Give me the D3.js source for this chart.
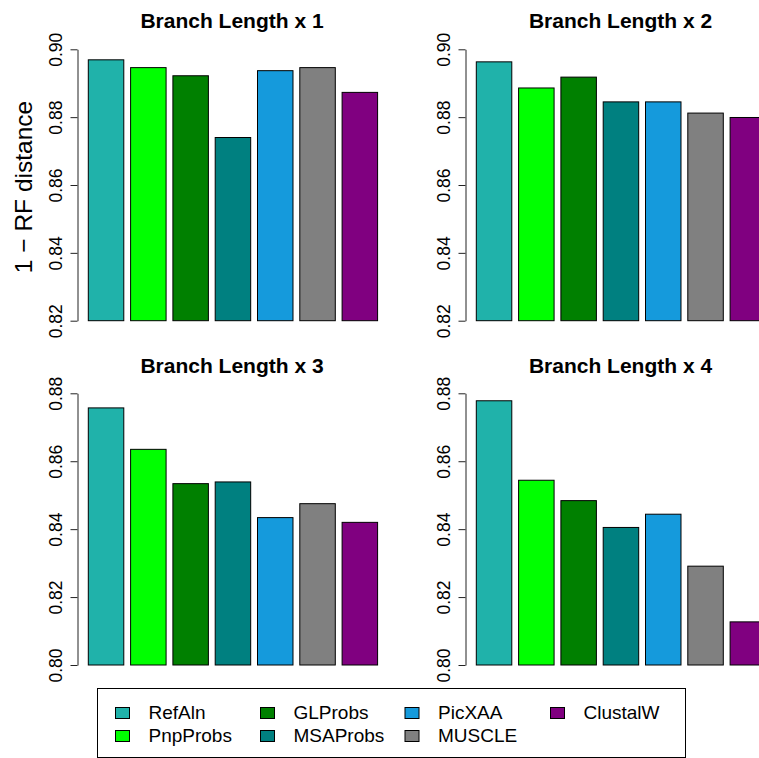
<!DOCTYPE html>
<html>
<head>
<meta charset="utf-8">
<script src="https://cdn.jsdelivr.net/npm/d3@7"></script>
<style>
  html, body { margin: 0; padding: 0; background: #fff; }
  svg { display: block; font-family: "Liberation Sans", Arial, Helvetica, sans-serif; }
</style>
</head>
<body>
<svg id="chart" width="759" height="758"></svg>
<script>
// Aligners compared, with their bar colours
const methods = ["RefAln", "PnpProbs", "GLProbs", "MSAProbs", "PicXAA", "MUSCLE", "ClustalW"];
const colors  = ["#20B2AA", "#00FF00", "#008000", "#008080", "#159ADC", "#808080", "#800080"];

// 1 - RF distance for each branch length scaling
const blx1 = [0.8969, 0.8946, 0.8922, 0.8740, 0.8937, 0.8946, 0.8873];
const blx2 = [0.8963, 0.8886, 0.8918, 0.8845, 0.8845, 0.8812, 0.8799];
const blx3 = [0.8757, 0.8635, 0.8534, 0.8539, 0.8434, 0.8475, 0.8420];
const blx4 = [0.8778, 0.8544, 0.8484, 0.8405, 0.8444, 0.8291, 0.8127];

const titles = ["Branch Length x 1", "Branch Length x 2", "Branch Length x 3", "Branch Length x 4"];

// y-axis ticks for the top and bottom rows
const ticksTop    = [0.82, 0.84, 0.86, 0.88, 0.90];
const ticksBottom = [0.80, 0.82, 0.84, 0.86, 0.88];

const yLabel = "1 \u2212 RF distance";

const svg = d3.select("#chart");

// Panel layout: axis position, first bar edge, vertical range and title placement
const panels = [
  { values: blx1, title: titles[0], ticks: ticksTop,    axisX: 77.5,  barX0: 88.3,  yTop: 49.3,  yBot: 320.7, titleX: 232,   titleY: 28 },
  { values: blx2, title: titles[1], ticks: ticksTop,    axisX: 465.5, barX0: 476.3, yTop: 49.3,  yBot: 320.7, titleX: 620.5, titleY: 28 },
  { values: blx3, title: titles[2], ticks: ticksBottom, axisX: 77.5,  barX0: 88.3,  yTop: 393.3, yBot: 665,   titleX: 232,   titleY: 373 },
  { values: blx4, title: titles[3], ticks: ticksBottom, axisX: 465.5, barX0: 476.3, yTop: 393.3, yBot: 665,   titleX: 620.5, titleY: 373 }
];

const step = 42.3;
const pad = 0.161;

panels.forEach((p, idx) => {
  const g = svg.append("g");

  const x = d3.scaleBand()
    .domain(methods)
    .range([p.barX0, p.barX0 + step * (methods.length - pad)])
    .paddingInner(pad)
    .paddingOuter(0);

  const y = d3.scaleLinear()
    .domain([p.ticks[0], p.ticks[p.ticks.length - 1]])
    .range([p.yBot, p.yTop]);

  // bars
  g.selectAll("rect.bar")
    .data(p.values)
    .join("rect")
    .attr("class", "bar")
    .attr("x", (d, i) => x(methods[i]))
    .attr("width", x.bandwidth())
    .attr("y", d => y(d))
    .attr("height", d => y(p.ticks[0]) - y(d))
    .attr("fill", (d, i) => colors[i])
    .attr("stroke", "#000")
    .attr("stroke-width", 1);

  // y axis, R style: rotated labels, line spanning the tick range only
  const axis = d3.axisLeft(y)
    .tickValues(p.ticks)
    .tickFormat(d3.format(".2f"))
    .tickSize(7)
    .tickSizeOuter(0);

  const ag = g.append("g")
    .attr("transform", `translate(${p.axisX},0)`)
    .call(axis);

  ag.select(".domain").attr("stroke", "#222").attr("stroke-width", 1);
  ag.selectAll(".tick line").attr("stroke", "#222").attr("stroke-width", 1);
  ag.selectAll(".tick text")
    .attr("x", null)
    .attr("dy", null)
    .attr("transform", "translate(-16,0) rotate(-90)")
    .attr("text-anchor", "middle")
    .attr("fill", "#000")
    .style("font-size", "17.5px")
    .style("font-family", "'Liberation Sans', Arial, Helvetica, sans-serif");

  // panel title
  g.append("text")
    .attr("x", p.titleX)
    .attr("y", p.titleY)
    .attr("text-anchor", "middle")
    .style("font-size", "21px")
    .style("font-weight", "bold")
    .text(p.title);

  if (idx === 0) {
    g.append("text")
      .attr("transform", "translate(32,187) rotate(-90)")
      .attr("text-anchor", "middle")
      .style("font-size", "24.5px")
      .text(yLabel);
  }
});

// Legend: two rows, four columns, filled in column order
const legend = svg.append("g");
legend.append("rect")
  .attr("x", 97.5).attr("y", 688.5)
  .attr("width", 588).attr("height", 69)
  .attr("fill", "none")
  .attr("stroke", "#000")
  .attr("stroke-width", 1);

const colX = [115, 260, 404.5, 550];
const rowY = [712.5, 735.5];

const items = legend.selectAll("g.item")
  .data(methods)
  .join("g")
  .attr("class", "item")
  .attr("transform", (d, i) => `translate(${colX[Math.floor(i / 2)]},${rowY[i % 2]})`);

items.append("rect")
  .attr("x", 0.5).attr("y", -5)
  .attr("width", 14).attr("height", 11)
  .attr("fill", (d, i) => colors[i])
  .attr("stroke", "#000")
  .attr("stroke-width", 1);

items.append("text")
  .attr("x", 33.5)
  .attr("y", 6.5)
  .style("font-size", "19px")
  .text(d => d);
</script>
</body>
</html>
